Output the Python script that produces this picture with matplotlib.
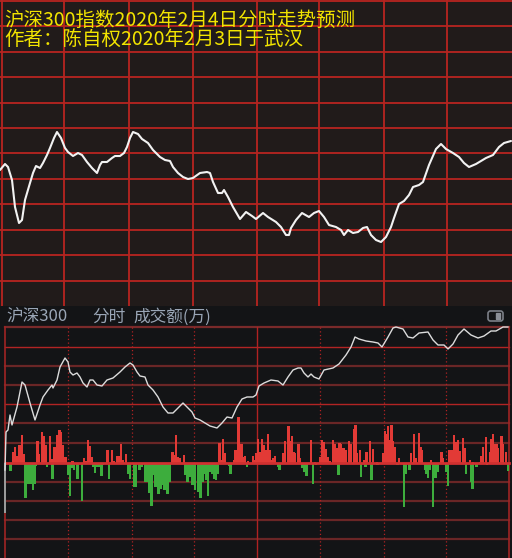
import matplotlib
matplotlib.use("Agg")
import matplotlib.pyplot as plt
from matplotlib.patches import Rectangle, FancyBboxPatch

plt.rcParams['font.family'] = ['Noto Sans CJK SC', 'DejaVu Sans']

# ---------------- data (pixel-scale units) ----------------
title_line1 = "沪深300指数2020年2月4日分时走势预测"
title_line2 = "作者：陈自权2020年2月3日于武汉"
header_parts = ["沪深300", "分时", "成交额(万)"]

# forecast line (top panel)
fc_x = [0, 5, 8, 12, 15, 19, 22, 25, 30, 33, 36, 40, 43, 47, 50, 54, 57, 61, 65, 68,
        73, 78, 82, 87, 92, 97, 100, 102, 107, 112, 115, 120, 124, 127, 130, 133, 138,
        142, 148, 153, 160, 165, 170, 173, 178, 183, 188, 193, 200, 207, 210, 213, 218,
        222, 224, 228, 233, 240, 246, 252, 256, 263, 268, 276, 281, 286, 289, 291, 296,
        302, 309, 314, 319, 324, 329, 336, 341, 344, 348, 353, 358, 363, 367, 371, 376,
        381, 386, 391, 394, 399, 404, 409, 413, 419, 423, 429, 436, 441, 446, 453, 459,
        464, 469, 476, 486, 493, 499, 504, 511]
fc_y = [170, 164, 167, 180, 207, 223, 220, 200, 183, 173, 166, 168, 163, 155, 148, 138, 132, 138, 148, 152,
        156, 153, 155, 162, 168, 173, 165, 162, 162, 158, 156, 156, 153, 147, 138, 132, 134,
        139, 143, 150, 157, 160, 161, 167, 173, 177, 179, 178, 173, 172, 173, 182, 193,
        193, 190, 197, 207, 219, 212, 216, 219, 213, 217, 222, 227, 235, 235, 228, 220,
        213, 217, 213, 211, 217, 225, 227, 230, 235, 230, 233, 232, 228, 227, 235, 240,
        242, 237, 227, 218, 204, 201, 195, 187, 185, 182, 165, 149, 144, 149, 153, 157,
        163, 167, 164, 158, 155, 147, 143, 141]

# actual intraday price line (bottom panel)
px_x = [5, 6, 8, 10, 12, 17, 22, 25, 30, 35, 40, 43, 48, 52, 53, 57, 60, 65, 68, 70,
        73, 77, 80, 83, 87, 90, 93, 97, 102, 107, 113, 120, 125, 130, 133, 137, 140, 145,
        148, 153, 158, 163, 168, 173, 178, 183, 187, 192, 195, 200, 205, 210, 217, 222,
        227, 232, 237, 242, 247, 253, 256, 259, 264, 271, 278, 283, 288, 293, 298, 301,
        304, 308, 311, 314, 319, 324, 333, 339, 346, 351, 355, 359, 366, 373, 378, 382,
        388, 393, 396, 403, 408, 413, 419, 428, 433, 438, 444, 448, 453, 458, 464, 471,
        478, 484, 491, 496, 503, 508]
px_y = [470, 432, 430, 415, 425, 407, 382, 385, 403, 420, 405, 397, 390, 385, 388, 380, 367, 358, 362, 372,
        375, 373, 377, 383, 387, 380, 380, 385, 386, 380, 378, 372, 367, 363, 365, 372, 376, 377,
        385, 390, 397, 407, 413, 413, 408, 403, 407, 412, 418, 420, 423, 426, 428, 423,
        417, 418, 407, 399, 397, 397, 395, 386, 383, 380, 381, 385, 377, 370, 368, 368,
        373, 377, 374, 377, 379, 370, 368, 364, 355, 347, 337, 339, 341, 342, 343, 347,
        337, 328, 327, 329, 337, 338, 333, 332, 340, 345, 345, 349, 344, 335, 329, 335,
        338, 336, 331, 331, 327, 327]

# turnover bars: position and signed height (up = red, down = green)
vol_x = [10.5, 13, 15, 16.5, 19.5, 22, 23.5, 25.5, 27.5, 29.5, 31.5, 33, 35, 36, 37.5, 38.5,
         42, 44, 45.5, 47, 50, 51.5, 52.5, 54.5, 57.5, 59.5, 61, 62.5, 65.5, 68, 70, 71.5,
         72.5, 74, 77.5, 82, 84, 86, 88, 89.5, 91.5, 93, 95, 97, 99, 101.5, 103, 107.5,
         109, 112, 113.5, 117, 119.5, 121, 122.5, 126,
         128.5, 130, 134, 136, 139.5, 142, 145.5, 147.5, 149, 151.5, 153, 155, 157, 158.5,
         160.5, 162.5, 164.5, 166, 167.5, 169.5, 172.5, 174, 176, 177.5, 180, 184, 185.5,
         187.5, 190, 192.5, 195, 198, 200.5, 202.5, 205, 206.5, 208, 210, 212.5, 214.5, 216,
         218, 219.5, 221.5, 223, 225, 229, 230.5, 234, 235.5, 237, 238.5, 240, 241.5, 243,
         245, 247, 248, 253, 255,
         256.5, 258, 260, 262, 263.5, 266, 268, 269.5, 272, 273.5, 275, 278, 279.5, 283,
         285, 288.5, 290, 292, 293.5, 295, 298.5, 300, 302, 304.5, 306.5, 311, 313, 315,
         316, 320, 322, 324, 326, 328, 329.5, 333, 334.5, 337, 338.5, 339.5, 341, 343.5,
         345.5, 349, 351, 354, 355.5, 357, 360, 361, 364, 365.5, 366.5, 370, 371.5, 373,
         377, 377.5, 383,
         385, 386.5, 388, 390, 391.5, 393, 395, 397.5, 399, 404, 406, 409.5, 411, 414, 416,
         419, 420.5, 422, 425, 426.5, 428, 430, 431, 433, 435.5, 437.5, 441.5, 443, 446.5,
         448, 449, 451.5, 454, 455.5, 458, 460, 463, 465, 466, 470, 471, 472.5, 473, 476.5,
         480, 481.5, 483, 486, 487, 490, 491.5, 493, 495, 496.5, 498, 501.5, 503, 506, 508]
vol_h = [-8, 11, 16, 7, 18, 28, 9, -35, -21, -21, -21, -27, -21, -3, 22, 9,
         31, 27, 18, -4, 27, 4, -16, 16, 28, 33, 31, 18, 6, -12, -33, -5,
         2, -7, -16, -38, 5, 2, 23, 17, 6, -4, -10, -4, -4, -13, -2, 13,
         -16, 13, 2, 7, 7, 19, 3, 9,
         -11, -16, -24, -24, -7, -4, -19, -19, -30, -43, -12, -24, -24, -31,
         -26, -22, -27, -27, -31, -19, 11, 8, 28, 6, 5, 8, -12,
         -19, -14, -22, -27, -29, -35, -19, -11, -17, -33, -9, -11, -16, -17,
         -11, 20, 3, 24, 10, -3, -11, 3, 13, 8, 46, 11, 19, 6,
         7, -4, 2, 7, 3,
         10, 24, 11, 24, 18, 13, 29, 13, 3, 5, 7, -4, -7, 10,
         22, 37, 22, 27, 11, 10, 19, 5, -5, -9, -13, 23, -21, 1,
         -2, 6, 23, 21, 14, 6, 2, 23, 19, 15, -12, 20, 19, 15,
         13, 22, 19, 34, 38, 10, 13, -14, 3, -4, 11, 22, -17, 14,
         1, -2, 10,
         32, 29, 37, 23, 38, 22, 16, -2, 5, -44, -11, -7, 10, 29, 5,
         30, 16, 13, -7, -11, -15, -7, 3, -44, -15, -9, 11, 5, -9,
         -23, 13, 13, 28, 21, 23, 12, 25, 15, -11, 3, -19, -26, 1, -4,
         1, 7, 16, 26, -2, 11, 24, 29, 19, 19, 15, 27, 19, 11, -8]

# ---------------- figure ----------------
W, H = 512, 558
fig = plt.figure(figsize=(W / 100, H / 100), dpi=100)
fig.patch.set_facecolor('#141516')

TOP_H = 306
ax1 = fig.add_axes([0, (H - TOP_H) / H, 1, TOP_H / H])
ax1.set_xlim(0, W)
ax1.set_ylim(TOP_H, 0)
ax1.axis('off')
ax1.add_patch(Rectangle((0, 0), W, TOP_H, color='#211b1a', zorder=0))

grid_red = '#b82420'
for gx in [2, 64, 129, 193, 256.5, 319, 384, 447]:
    ax1.axvline(gx, color=grid_red, lw=1.3, zorder=1)
for gy in [1, 26, 52, 77, 103, 128, 153, 179, 204, 230, 255, 281]:
    ax1.axhline(gy, color=grid_red, lw=1.3, zorder=1)

ax1.plot(fc_x, fc_y, color='#f2f2f2', lw=1.5, solid_joinstyle='round',
         solid_capstyle='round', zorder=3)

ax1.text(4, 10, title_line1 + "\n" + title_line2, color='#f2e400', fontsize=14,
         va='top', ha='left', linespacing=0.88, zorder=4)

# ---------------- bottom panel ----------------
ax2 = fig.add_axes([0, 0, 1, (H - TOP_H) / H])
ax2.set_xlim(0, W)
ax2.set_ylim(H, TOP_H)
ax2.axis('off')
ax2.add_patch(Rectangle((0, TOP_H), W, H - TOP_H, color='#131416', zorder=0))

for xpos, part in zip([6, 92, 133], header_parts):
    ax2.text(xpos, 317, part, color='#9aa6b6', fontsize=12, va='center', ha='left', zorder=4)
ax2.add_patch(FancyBboxPatch((488, 311), 15, 10, boxstyle='round,pad=0,rounding_size=2.5',
                             fc='none', ec='#7c8088', lw=1.2, zorder=4))
ax2.add_patch(Rectangle((496, 313), 4, 6, color='#8a8e96', zorder=4))

L, R, T, B = 5, 509, 327, 558
dark_red = '#6a2626'
bright_red = '#b22424'
bright_rows = {347, 404}
for gy in [347, 366, 385, 404, 423, 443, 482, 501, 520, 539]:
    if gy in bright_rows:
        ax2.plot([L, R], [gy, gy], color=bright_red, lw=1.0, zorder=1)
    else:
        ax2.plot([L, R], [gy, gy], color=dark_red, lw=1.6, zorder=1)
ax2.plot([L, R], [T, T], color='#7a2a2a', lw=1.6, zorder=1)
ax2.plot([L, L], [T, B], color='#a02424', lw=1.2, zorder=1)
ax2.plot([R, R], [T, B], color='#a02424', lw=1.2, zorder=1)
for gx in [68, 132, 194, 320, 384, 446]:
    ax2.plot([gx, gx], [T, B], color='#b02222', lw=0.9, ls=(0, (1, 2)), zorder=1)
ax2.plot([257, 257], [T, B], color='#b02222', lw=1.0, zorder=1)

zero = 463
for x, h in zip(vol_x, vol_h):
    c = '#e23a36' if h > 0 else '#3dad3d'
    ax2.add_patch(Rectangle((x - 1.1, zero), 2.2, -h, color=c, lw=0, zorder=2))
ax2.plot([L, R], [zero, zero], color='#d03030', lw=2.0, zorder=2)
ax2.add_patch(Rectangle((4, zero), 2, 50, color='#9a9a9a', lw=0, zorder=2))

ax2.plot(px_x, px_y, color='#dcdcdc', lw=1.0, zorder=3)

fig.savefig('out.png', dpi=100, facecolor=fig.get_facecolor())
